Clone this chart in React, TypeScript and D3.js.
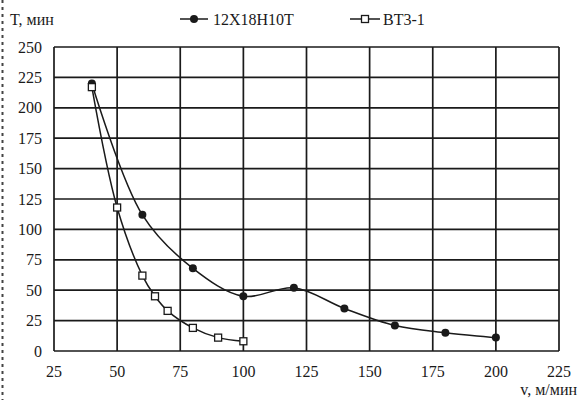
import React from "react";
import * as d3 from "d3";

const xTicks = [25, 50, 75, 100, 125, 150, 175, 200, 225];
const yTicks = [0, 25, 50, 75, 100, 125, 150, 175, 200, 225, 250];

const steelV = [40, 60, 80, 100, 120, 140, 160, 180, 200];
const steelT = [220, 112, 68, 45, 52, 35, 21, 15, 11];

const titanV = [40, 50, 60, 65, 70, 80, 90, 100];
const titanT = [217, 118, 62, 45, 33, 19, 11, 8];

const steelName = "12X18H10T";
const titanName = "BT3-1";
const yTitle = "T, мин";
const xTitle = "v, м/мин";

const W = 579;
const H = 400;
const margin = { left: 54, right: 20, top: 47, bottom: 49 };

export default function App() {
  const x = d3.scaleLinear().domain([25, 225]).range([margin.left, W - margin.right]);
  const y = d3.scaleLinear().domain([0, 250]).range([H - margin.bottom, margin.top]);
  const line = d3
    .line<[number, number]>()
    .x((d) => x(d[0]))
    .y((d) => y(d[1]))
    .curve(d3.curveCatmullRom.alpha(0.5));
  const steel: [number, number][] = steelV.map((v, i) => [v, steelT[i]]);
  const titan: [number, number][] = titanV.map((v, i) => [v, titanT[i]]);
  const ink = "#1a1a1a";
  const tStyle: React.CSSProperties = { fontFamily: "serif", fontSize: 16 };

  return (
    <svg
      width={W}
      height={H}
      style={{ position: "absolute", left: 0, top: 0, background: "#fff" }}
    >
      <rect x={0} y={0} width={W} height={H} fill="#fff" />
      <line x1={2.5} x2={2.5} y1={0} y2={H} stroke="#444" strokeWidth={2} strokeDasharray="3 4" />
      {xTicks.map((t) => (
        <line key={"gx" + t} x1={x(t)} x2={x(t)} y1={y(0)} y2={y(250)} stroke={ink} strokeWidth={1.7} />
      ))}
      {yTicks.map((t) => (
        <line key={"gy" + t} x1={x(25)} x2={x(225)} y1={y(t)} y2={y(t)} stroke={ink} strokeWidth={1.7} />
      ))}
      {yTicks.map((t) => (
        <text key={"ty" + t} x={42} y={y(t)} dy="0.35em" textAnchor="end" style={tStyle} fill={ink}>
          {t}
        </text>
      ))}
      {xTicks.map((t) => (
        <text key={"tx" + t} x={x(t)} y={371} dy="0.35em" textAnchor="middle" style={tStyle} fill={ink}>
          {t}
        </text>
      ))}
      <text x={10} y={19} dy="0.35em" style={tStyle} fill={ink}>
        {yTitle}
      </text>
      <text x={577} y={389} dy="0.35em" textAnchor="end" style={tStyle} fill={ink}>
        {xTitle}
      </text>
      <path d={line(steel) || ""} fill="none" stroke={ink} strokeWidth={1.5} />
      <path d={line(titan) || ""} fill="none" stroke={ink} strokeWidth={1.5} />
      {steel.map((d, i) => (
        <circle key={"cs" + i} cx={x(d[0])} cy={y(d[1])} r={4} fill={ink} />
      ))}
      {titan.map((d, i) => (
        <rect
          key={"ct" + i}
          x={x(d[0]) - 3.5}
          y={y(d[1]) - 3.5}
          width={7}
          height={7}
          fill="#fff"
          stroke={ink}
          strokeWidth={1.3}
        />
      ))}
      <line x1={180} x2={208} y1={19} y2={19} stroke={ink} strokeWidth={1.5} />
      <circle cx={194} cy={19} r={4} fill={ink} />
      <text x={213} y={19} dy="0.35em" style={tStyle} fill={ink}>
        {steelName}
      </text>
      <line x1={350} x2={380} y1={19} y2={19} stroke={ink} strokeWidth={1.5} />
      <rect x={361.5} y={15.5} width={7} height={7} fill="#fff" stroke={ink} strokeWidth={1.3} />
      <text x={383} y={19} dy="0.35em" style={tStyle} fill={ink}>
        {titanName}
      </text>
    </svg>
  );
}
